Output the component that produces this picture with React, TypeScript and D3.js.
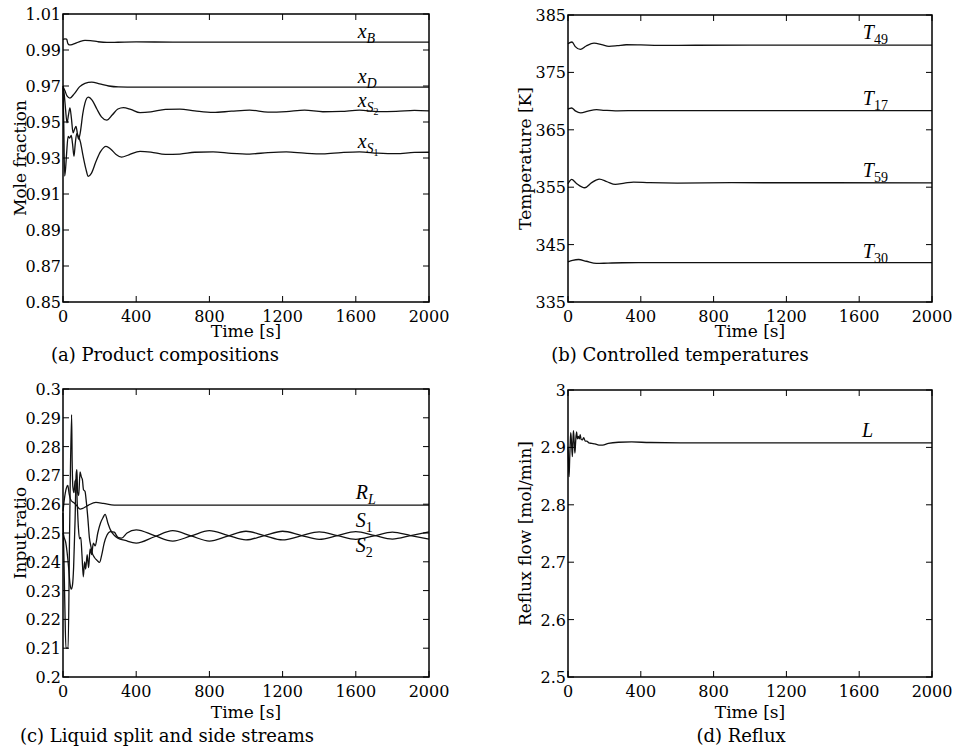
import React from 'react';
import * as d3 from 'd3';

type Pt = [number, number];

// ---------- shared axis data ----------
const timeTicks = [0, 400, 800, 1200, 1600, 2000];
const timeTickLabels = ['0', '400', '800', '1200', '1600', '2000'];

const compTicks = [0.85, 0.87, 0.89, 0.91, 0.93, 0.95, 0.97, 0.99, 1.01];
const compTickLabels = ['0.85', '0.87', '0.89', '0.91', '0.93', '0.95', '0.97', '0.99', '1.01'];

const tempTicks = [335, 345, 355, 365, 375, 385];
const tempTickLabels = ['335', '345', '355', '365', '375', '385'];

const ratioTicks = [0.2, 0.21, 0.22, 0.23, 0.24, 0.25, 0.26, 0.27, 0.28, 0.29, 0.3];
const ratioTickLabels = ['0.2', '0.21', '0.22', '0.23', '0.24', '0.25', '0.26', '0.27', '0.28', '0.29', '0.3'];

const refluxTicks = [2.5, 2.6, 2.7, 2.8, 2.9, 3];
const refluxTickLabels = ['2.5', '2.6', '2.7', '2.8', '2.9', '3'];

// ---------- (a) product compositions ----------
const xB: Pt[] = [[0,0.9958],[10,0.9962],[20,0.996],[27,0.9935],[35,0.9928],[50,0.993],[70,0.9938],[95,0.9948],[120,0.9953],[150,0.9952],[190,0.9946],[240,0.9942],[300,0.9943],[400,0.9945],[600,0.9944],[800,0.9944],[1200,0.9944],[2000,0.9944]];
const xD: Pt[] = [[0,0.9698],[10,0.9675],[22,0.9645],[38,0.9633],[60,0.9655],[90,0.9695],[120,0.9715],[157,0.9722],[200,0.9712],[250,0.97],[302,0.9695],[400,0.9694],[600,0.9694],[2000,0.9694]];
const xS2: Pt[] = [[0,0.97],[6,0.966],[14,0.957],[22,0.9495],[30,0.954],[38,0.9578],[46,0.952],[55,0.944],[63,0.946],[71,0.9476],[78,0.944],[85,0.9405],[95,0.9445],[108,0.9545],[120,0.9605],[138,0.9638],[160,0.962],[185,0.9572],[210,0.9528],[239,0.951],[270,0.954],[300,0.9572],[330,0.958],[370,0.957],[421,0.9552],[480,0.9556],[560,0.957],[639,0.9572],[720,0.9562],[820,0.9553],[920,0.956],[1020,0.9566],[1120,0.9555],[1220,0.9558],[1320,0.9566],[1420,0.9557],[1520,0.9559],[1620,0.9566],[1720,0.9558],[1820,0.9559],[1920,0.9565],[2000,0.9562]];
const xS1: Pt[] = [[0,0.969],[4,0.95],[9,0.92],[14,0.924],[20,0.933],[28,0.942],[36,0.941],[45,0.9425],[52,0.938],[60,0.931],[67,0.938],[75,0.9435],[84,0.942],[95,0.939],[110,0.931],[125,0.924],[138,0.9198],[155,0.9215],[180,0.928],[205,0.9335],[235,0.9365],[260,0.935],[290,0.932],[320,0.9305],[360,0.9318],[421,0.9337],[480,0.9333],[560,0.932],[639,0.9322],[720,0.9332],[820,0.9334],[920,0.9326],[1020,0.9322],[1120,0.933],[1220,0.9334],[1320,0.9327],[1420,0.9323],[1520,0.933],[1620,0.9334],[1720,0.9327],[1820,0.9324],[1920,0.9331],[2000,0.9332]];

// ---------- (b) controlled temperatures ----------
const T49: Pt[] = [[0,380.0],[10,380.2],[22,380.3],[40,379.5],[68,379.0],[100,379.6],[143,380.1],[185,379.85],[225,379.55],[270,379.65],[320,379.82],[400,379.78],[500,379.7],[700,379.73],[1000,379.75],[2000,379.75]];
const T17: Pt[] = [[0,368.6],[10,368.75],[20,368.8],[40,368.3],[70,367.95],[110,368.25],[157,368.5],[200,368.4],[260,368.3],[400,368.35],[2000,368.35]];
const T59: Pt[] = [[0,355.6],[10,356.1],[20,356.35],[45,355.7],[92,354.9],[130,355.8],[172,356.4],[215,355.95],[260,355.5],[310,355.7],[360,355.9],[450,355.78],[600,355.72],[900,355.78],[2000,355.77]];
const T30: Pt[] = [[0,342.0],[25,342.25],[58,342.4],[100,342.1],[156,341.72],[220,341.78],[300,341.84],[500,341.86],[2000,341.85]];

// ---------- (c) liquid split and side streams ----------
const RL: Pt[] = [[0,0.2575],[8,0.262],[18,0.2655],[26,0.2665],[34,0.2635],[45,0.2612],[60,0.2605],[75,0.2595],[93,0.2583],[110,0.2586],[140,0.2597],[180,0.2606],[220,0.2603],[280,0.2597],[400,0.2597],[700,0.2597],[2000,0.2597]];
const S1: Pt[] = [[0,0.25],[6,0.2485],[14,0.247],[22,0.2435],[30,0.2385],[38,0.2325],[45,0.2305],[52,0.232],[58,0.238],[66,0.2545],[72,0.2705],[76,0.272],[80,0.264],[86,0.263],[93,0.2712],[100,0.2695],[106,0.2685],[112,0.265],[120,0.2645],[128,0.2605],[136,0.255],[144,0.2485],[152,0.2455],[160,0.243],[172,0.2415],[186,0.2405],[200,0.2398],[212,0.2425],[225,0.2465],[240,0.2492],[260,0.2505],[280,0.2503],[300,0.2485],[320,0.2482],[350,0.25],[400,0.2511],[500,0.2491],[600,0.2472],[700,0.249],[800,0.2508],[900,0.2492],[1000,0.2476],[1100,0.2491],[1200,0.2506],[1300,0.2492],[1400,0.2478],[1500,0.2491],[1600,0.2505],[1700,0.2492],[1800,0.2479],[1900,0.2491],[2000,0.2504]];
const S2: Pt[] = [[0,0.257],[4,0.245],[10,0.225],[16,0.21],[28,0.21],[36,0.25],[47,0.2911],[50,0.275],[54,0.266],[60,0.264],[66,0.268],[72,0.2685],[78,0.26],[84,0.252],[90,0.248],[97,0.2485],[104,0.242],[111,0.2348],[118,0.24],[124,0.2375],[132,0.2425],[140,0.238],[148,0.2445],[156,0.2425],[166,0.2465],[176,0.2455],[190,0.25],[205,0.2535],[220,0.2555],[230,0.2565],[245,0.2535],[260,0.251],[280,0.2492],[300,0.2482],[340,0.2474],[400,0.2465],[500,0.2487],[600,0.2508],[700,0.249],[800,0.2472],[900,0.2489],[1000,0.2506],[1100,0.2491],[1200,0.2476],[1300,0.249],[1400,0.2504],[1500,0.2491],[1600,0.2478],[1700,0.249],[1800,0.2503],[1900,0.2491],[2000,0.2479]];

// ---------- (d) reflux ----------
const Lflow: Pt[] = [[0,2.901],[3,2.87],[6,2.849],[9,2.878],[12,2.905],[15,2.9255],[19,2.91],[24,2.884],[27,2.91],[30,2.929],[34,2.91],[38,2.89],[42,2.91],[47,2.927],[52,2.915],[57,2.919],[62,2.915],[67,2.922],[72,2.914],[79,2.913],[86,2.917],[95,2.911],[103,2.911],[115,2.908],[130,2.907],[148,2.906],[170,2.904],[190,2.904],[222,2.907],[277,2.909],[350,2.9095],[450,2.9085],[700,2.908],[2000,2.908]];

const SERIF = '"DejaVu Serif", serif';
const MATH = '"Liberation Serif", "DejaVu Serif", serif';

interface SeriesDef {
  data: Pt[];
  label: React.ReactNode;
  labelT: number;
  labelDy: number;
}

interface PanelProps {
  left: number; right: number; top: number; bottom: number;
  yDomain: [number, number];
  yTicks: number[]; yTickLabels: string[];
  yLabel: string; yLabelX: number;
  caption: string; captionX: number; captionY: number;
  timeLabelY: number;
  series: SeriesDef[];
}

function Panel(p: PanelProps) {
  const x = d3.scaleLinear().domain([0, 2000]).range([p.left, p.right]);
  const y = d3.scaleLinear().domain(p.yDomain).range([p.bottom, p.top]);
  const line = d3.line<Pt>().x(d => x(d[0])).y(d => y(d[1])).curve(d3.curveMonotoneX);
  const tl = 6;
  const midY = (p.top + p.bottom) / 2;
  return (
    <g>
      {p.series.map((s, i) => (
        <path key={i} d={line(s.data) || ''} fill="none" stroke="#111" strokeWidth={1.3} />
      ))}
      <rect x={p.left} y={p.top} width={p.right - p.left} height={p.bottom - p.top} fill="none" stroke="#000" strokeWidth={1.5} />
      {timeTicks.map((t, i) => (
        <g key={'xt' + i}>
          <line x1={x(t)} x2={x(t)} y1={p.bottom} y2={p.bottom - tl} stroke="#000" strokeWidth={1} />
          <line x1={x(t)} x2={x(t)} y1={p.top} y2={p.top + tl} stroke="#000" strokeWidth={1} />
          <text x={x(t)} y={p.bottom + 20} textAnchor="middle" fontFamily={SERIF} fontSize={16} fill="#000">{timeTickLabels[i]}</text>
        </g>
      ))}
      {p.yTicks.map((v, i) => (
        <g key={'yt' + i}>
          <line x1={p.left} x2={p.left + tl} y1={y(v)} y2={y(v)} stroke="#000" strokeWidth={1} />
          <line x1={p.right} x2={p.right - tl} y1={y(v)} y2={y(v)} stroke="#000" strokeWidth={1} />
          <text x={p.left - 2} y={y(v) + 6} textAnchor="end" fontFamily={SERIF} fontSize={16} fill="#000">{p.yTickLabels[i]}</text>
        </g>
      ))}
      <text x={(p.left + p.right) / 2} y={p.timeLabelY} textAnchor="middle" fontFamily={SERIF} fontSize={17} fill="#000">Time [s]</text>
      <text transform={`translate(${p.yLabelX},${midY}) rotate(-90)`} textAnchor="middle" dominantBaseline="central" fontFamily={SERIF} fontSize={17} fill="#000">{p.yLabel}</text>
      <text x={p.captionX} y={p.captionY} textAnchor="middle" fontFamily={SERIF} fontSize={18} fill="#000">{p.caption}</text>
      {p.series.map((s, i) => {
        const last = s.data[s.data.length - 1];
        return (
          <text key={'lb' + i} x={x(s.labelT)} y={y(last[1]) + s.labelDy} fontFamily={MATH} fontSize={20} fill="#000">{s.label}</text>
        );
      })}
    </g>
  );
}

const sub = (txt: string, italic = false) => (
  <tspan fontSize={14} dy={5} fontStyle={italic ? 'italic' : 'normal'}>{txt}</tspan>
);

export default function App() {
  return (
    <svg width={955} height={750} style={{ position: 'absolute', left: 0, top: 0, background: '#fff' }}>
      <rect width={955} height={750} fill="#fff" />
      <Panel left={63} right={429} top={14} bottom={302}
        yDomain={[0.85, 1.01]} yTicks={compTicks} yTickLabels={compTickLabels}
        yLabel="Mole fraction" yLabelX={20}
        caption="(a) Product compositions" captionX={165} captionY={361} timeLabelY={337}
        series={[
          { data: xB, labelT: 1610, labelDy: -4, label: <><tspan fontStyle="italic">x</tspan>{sub('B', true)}</> },
          { data: xD, labelT: 1610, labelDy: -4, label: <><tspan fontStyle="italic">x</tspan>{sub('D', true)}</> },
          { data: xS2, labelT: 1610, labelDy: -4, label: <><tspan fontStyle="italic">x</tspan><tspan fontSize={14} dy={5} fontStyle="italic">S</tspan><tspan fontSize={10} dy={3}>2</tspan></> },
          { data: xS1, labelT: 1610, labelDy: -4, label: <><tspan fontStyle="italic">x</tspan><tspan fontSize={14} dy={5} fontStyle="italic">S</tspan><tspan fontSize={10} dy={3}>1</tspan></> },
        ]} />
      <Panel left={568} right={932} top={15} bottom={302}
        yDomain={[335, 385]} yTicks={tempTicks} yTickLabels={tempTickLabels}
        yLabel="Temperature [K]" yLabelX={525}
        caption="(b) Controlled temperatures" captionX={680} captionY={361} timeLabelY={337}
        series={[
          { data: T49, labelT: 1620, labelDy: -6, label: <><tspan fontStyle="italic">T</tspan>{sub('49')}</> },
          { data: T17, labelT: 1620, labelDy: -6, label: <><tspan fontStyle="italic">T</tspan>{sub('17')}</> },
          { data: T59, labelT: 1620, labelDy: -6, label: <><tspan fontStyle="italic">T</tspan>{sub('59')}</> },
          { data: T30, labelT: 1620, labelDy: -5, label: <><tspan fontStyle="italic">T</tspan>{sub('30')}</> },
        ]} />
      <Panel left={63} right={429} top={389} bottom={677}
        yDomain={[0.2, 0.3]} yTicks={ratioTicks} yTickLabels={ratioTickLabels}
        yLabel="Input ratio" yLabelX={20}
        caption="(c) Liquid split and side streams" captionX={167} captionY={742} timeLabelY={718}
        series={[
          { data: RL, labelT: 1600, labelDy: -6, label: <><tspan fontStyle="italic">R</tspan>{sub('L', true)}</> },
          { data: S1, labelT: 1600, labelDy: -5, label: <><tspan fontStyle="italic">S</tspan>{sub('1')}</> },
          { data: S2, labelT: 1600, labelDy: 13, label: <><tspan fontStyle="italic">S</tspan>{sub('2')}</> },
        ]} />
      <Panel left={568} right={932} top={390} bottom={677}
        yDomain={[2.5, 3]} yTicks={refluxTicks} yTickLabels={refluxTickLabels}
        yLabel="Reflux flow [mol/min]" yLabelX={525}
        caption="(d) Reflux" captionX={741} captionY={742} timeLabelY={718}
        series={[
          { data: Lflow, labelT: 1615, labelDy: -6, label: <tspan fontStyle="italic">L</tspan> },
        ]} />
    </svg>
  );
}
